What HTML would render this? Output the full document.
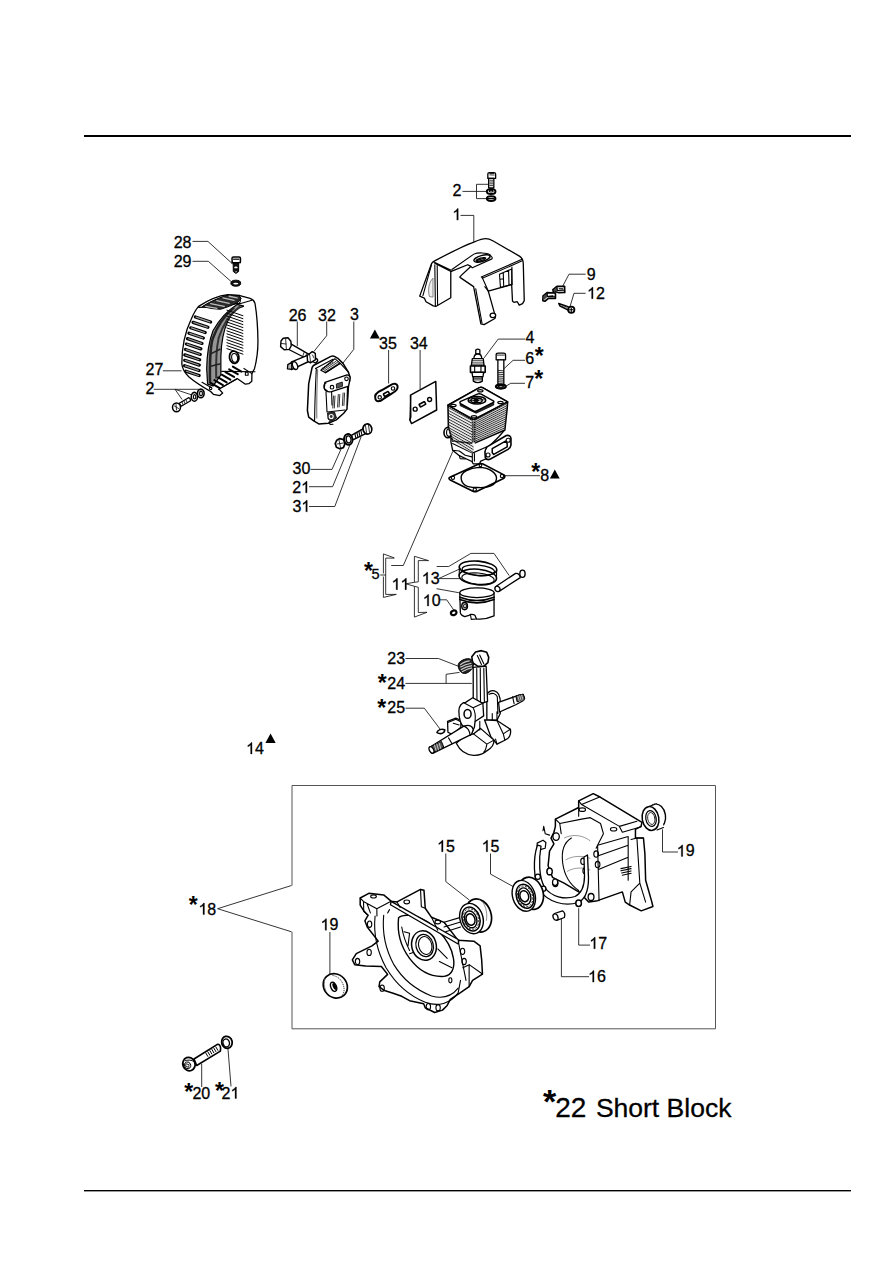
<!DOCTYPE html>
<html><head><meta charset="utf-8"><style>
html,body{margin:0;padding:0;background:#fff;}
body{width:893px;height:1263px;overflow:hidden;}
svg{display:block;font-family:"Liberation Sans",sans-serif;}
svg *{vector-effect:non-scaling-stroke;}
text{fill:#000;stroke:#000;stroke-width:0.3px;}
.ld{fill:none;stroke:#111;stroke-width:0.85;}
.o{fill:#fff;stroke:#000;stroke-width:1.3;stroke-linejoin:round;stroke-linecap:round;}
.n{fill:none;stroke:#000;stroke-width:1.1;stroke-linejoin:round;stroke-linecap:round;}
.t{fill:none;stroke:#000;stroke-width:0.8;stroke-linecap:round;}
.g{fill:none;stroke:#555;stroke-width:0.7;}
.k{fill:#222;stroke:#000;stroke-width:0.8;}
.f{fill:#000;stroke:none;}
.s{fill:none;stroke:#222;stroke-width:2.2;stroke-linecap:round;}
</style></head><body>
<svg width="893" height="1263" viewBox="0 0 893 1263">
<rect width="893" height="1263" fill="#fff"/>
<rect x="84" y="135" width="767" height="2" fill="#000"/>
<rect x="84" y="1190" width="767" height="1.4" fill="#000"/>
<path d="M292,885.5 L292,785.5 L715.5,785.5 L715.5,1028.8 L292,1028.8 L292,931.8" fill="none" stroke="#555" stroke-width="1"/>
<text x="452.40" y="195.90" font-size="16" >2</text>
<path d="M763,0 L583,0 L583,1147 Q518,1085 412,1023 Q306,961 222,930 L222,1104 Q373,1175 486,1276 Q599,1377 646,1472 L763,1472 Z" transform="translate(452.27,220.10) scale(0.007812,-0.007812)" fill="#000" stroke="#000" stroke-width="0.3"/>
<text x="173.70" y="247.70" font-size="16" >28</text>
<text x="173.70" y="267.20" font-size="16" >29</text>
<text x="586.65" y="279.70" font-size="16" >9</text>
<path d="M763,0 L583,0 L583,1147 Q518,1085 412,1023 Q306,961 222,930 L222,1104 Q373,1175 486,1276 Q599,1377 646,1472 L763,1472 Z" transform="translate(587.07,298.70) scale(0.007812,-0.007812)" fill="#000" stroke="#000" stroke-width="0.3"/><text x="595.96" y="298.70" font-size="16" >2</text>
<text x="288.70" y="320.50" font-size="16" >26</text>
<text x="318.09" y="320.50" font-size="16" >32</text>
<text x="350.09" y="320.30" font-size="16" >3</text>
<text x="379.09" y="349.20" font-size="16" >35</text>
<text x="409.89" y="349.20" font-size="16" >34</text>
<text x="525.53" y="342.60" font-size="16" >4</text>
<text x="525.19" y="364.00" font-size="16" >6</text>
<text x="525.18" y="388.00" font-size="16" >7</text>
<text x="145.50" y="375.30" font-size="16" >27</text>
<text x="145.50" y="394.30" font-size="16" >2</text>
<text x="292.59" y="473.80" font-size="16" >30</text>
<text x="292.20" y="492.80" font-size="16" >2</text><path d="M763,0 L583,0 L583,1147 Q518,1085 412,1023 Q306,961 222,930 L222,1104 Q373,1175 486,1276 Q599,1377 646,1472 L763,1472 Z" transform="translate(301.09,492.80) scale(0.007812,-0.007812)" fill="#000" stroke="#000" stroke-width="0.3"/>
<text x="292.39" y="511.80" font-size="16" >3</text><path d="M763,0 L583,0 L583,1147 Q518,1085 412,1023 Q306,961 222,930 L222,1104 Q373,1175 486,1276 Q599,1377 646,1472 L763,1472 Z" transform="translate(301.29,511.80) scale(0.007812,-0.007812)" fill="#000" stroke="#000" stroke-width="0.3"/>
<text x="540.30" y="480.80" font-size="16" >8</text>
<text x="371.52" y="579.30" font-size="14.5" >5</text>
<path d="M763,0 L583,0 L583,1147 Q518,1085 412,1023 Q306,961 222,930 L222,1104 Q373,1175 486,1276 Q599,1377 646,1472 L763,1472 Z" transform="translate(391.57,589.70) scale(0.007812,-0.007812)" fill="#000" stroke="#000" stroke-width="0.3"/><path d="M763,0 L583,0 L583,1147 Q518,1085 412,1023 Q306,961 222,930 L222,1104 Q373,1175 486,1276 Q599,1377 646,1472 L763,1472 Z" transform="translate(400.46,589.70) scale(0.007812,-0.007812)" fill="#000" stroke="#000" stroke-width="0.3"/>
<path d="M763,0 L583,0 L583,1147 Q518,1085 412,1023 Q306,961 222,930 L222,1104 Q373,1175 486,1276 Q599,1377 646,1472 L763,1472 Z" transform="translate(421.77,583.80) scale(0.007812,-0.007812)" fill="#000" stroke="#000" stroke-width="0.3"/><text x="430.66" y="583.80" font-size="16" >3</text>
<path d="M763,0 L583,0 L583,1147 Q518,1085 412,1023 Q306,961 222,930 L222,1104 Q373,1175 486,1276 Q599,1377 646,1472 L763,1472 Z" transform="translate(422.77,606.00) scale(0.007812,-0.007812)" fill="#000" stroke="#000" stroke-width="0.3"/><text x="431.66" y="606.00" font-size="16" >0</text>
<text x="387.30" y="664.40" font-size="16" >23</text>
<text x="387.30" y="689.10" font-size="16" >24</text>
<text x="387.30" y="713.30" font-size="16" >25</text>
<path d="M763,0 L583,0 L583,1147 Q518,1085 412,1023 Q306,961 222,930 L222,1104 Q373,1175 486,1276 Q599,1377 646,1472 L763,1472 Z" transform="translate(246.07,754.00) scale(0.007812,-0.007812)" fill="#000" stroke="#000" stroke-width="0.3"/><text x="254.96" y="754.00" font-size="16" >4</text>
<path d="M763,0 L583,0 L583,1147 Q518,1085 412,1023 Q306,961 222,930 L222,1104 Q373,1175 486,1276 Q599,1377 646,1472 L763,1472 Z" transform="translate(437.07,851.80) scale(0.007812,-0.007812)" fill="#000" stroke="#000" stroke-width="0.3"/><text x="445.96" y="851.80" font-size="16" >5</text>
<path d="M763,0 L583,0 L583,1147 Q518,1085 412,1023 Q306,961 222,930 L222,1104 Q373,1175 486,1276 Q599,1377 646,1472 L763,1472 Z" transform="translate(481.67,851.80) scale(0.007812,-0.007812)" fill="#000" stroke="#000" stroke-width="0.3"/><text x="490.56" y="851.80" font-size="16" >5</text>
<path d="M763,0 L583,0 L583,1147 Q518,1085 412,1023 Q306,961 222,930 L222,1104 Q373,1175 486,1276 Q599,1377 646,1472 L763,1472 Z" transform="translate(676.77,856.40) scale(0.007812,-0.007812)" fill="#000" stroke="#000" stroke-width="0.3"/><text x="685.66" y="856.40" font-size="16" >9</text>
<path d="M763,0 L583,0 L583,1147 Q518,1085 412,1023 Q306,961 222,930 L222,1104 Q373,1175 486,1276 Q599,1377 646,1472 L763,1472 Z" transform="translate(198.47,914.60) scale(0.007812,-0.007812)" fill="#000" stroke="#000" stroke-width="0.3"/><text x="207.36" y="914.60" font-size="16" >8</text>
<path d="M763,0 L583,0 L583,1147 Q518,1085 412,1023 Q306,961 222,930 L222,1104 Q373,1175 486,1276 Q599,1377 646,1472 L763,1472 Z" transform="translate(320.57,930.20) scale(0.007812,-0.007812)" fill="#000" stroke="#000" stroke-width="0.3"/><text x="329.46" y="930.20" font-size="16" >9</text>
<path d="M763,0 L583,0 L583,1147 Q518,1085 412,1023 Q306,961 222,930 L222,1104 Q373,1175 486,1276 Q599,1377 646,1472 L763,1472 Z" transform="translate(589.27,948.80) scale(0.007812,-0.007812)" fill="#000" stroke="#000" stroke-width="0.3"/><text x="598.16" y="948.80" font-size="16" >7</text>
<path d="M763,0 L583,0 L583,1147 Q518,1085 412,1023 Q306,961 222,930 L222,1104 Q373,1175 486,1276 Q599,1377 646,1472 L763,1472 Z" transform="translate(588.07,982.10) scale(0.007812,-0.007812)" fill="#000" stroke="#000" stroke-width="0.3"/><text x="596.96" y="982.10" font-size="16" >6</text>
<text x="192.40" y="1098.50" font-size="16" >20</text>
<text x="221.60" y="1098.50" font-size="16" >2</text><path d="M763,0 L583,0 L583,1147 Q518,1085 412,1023 Q306,961 222,930 L222,1104 Q373,1175 486,1276 Q599,1377 646,1472 L763,1472 Z" transform="translate(230.49,1098.50) scale(0.007812,-0.007812)" fill="#000" stroke="#000" stroke-width="0.3"/>
<text x="534.73" y="364.12" font-size="23" font-weight="bold" style="stroke:none">*</text>
<text x="534.23" y="387.22" font-size="23" font-weight="bold" style="stroke:none">*</text>
<text x="531.13" y="480.32" font-size="23" font-weight="bold" style="stroke:none">*</text>
<text x="363.93" y="579.02" font-size="23" font-weight="bold" style="stroke:none">*</text>
<text x="377.73" y="690.92" font-size="23" font-weight="bold" style="stroke:none">*</text>
<text x="377.13" y="716.12" font-size="23" font-weight="bold" style="stroke:none">*</text>
<text x="188.73" y="912.92" font-size="23" font-weight="bold" style="stroke:none">*</text>
<text x="184.13" y="1099.82" font-size="23" font-weight="bold" style="stroke:none">*</text>
<text x="215.03" y="1099.12" font-size="23" font-weight="bold" style="stroke:none">*</text>
<path class="f" d="M369.9,338.4 L374.85,329.6 L379.8,338.4 Z"/>
<path class="f" d="M549.9,478.5 L554.8,469.6 L559.7,478.5 Z"/>
<path class="f" d="M265.4,742.9 L270.54999999999995,733.6 L275.7,742.9 Z"/>
<text x="543.00" y="1113.49" font-size="34" font-weight="bold" style="stroke:none">*</text>
<text x="555.19" y="1116.90" font-size="28" >22</text>
<text x="595.90" y="1117.30" font-size="26.5" >Short Block</text>
<path class="ld" d="M462.5,191.4 L487,191.4"/>
<path class="ld" d="M488,184.3 L476.5,184.3 L476.5,198.6 L487,198.6"/>
<path class="ld" d="M460.5,215.4 L473.8,215.4 L473.8,246.7"/>
<path class="ld" d="M192.5,241.4 L207.9,241.4 L232.5,263.8"/>
<path class="ld" d="M192.5,261.3 L208.3,261.3 L231.4,281.8"/>
<path class="ld" d="M585.6,274.2 L569,274.2 L562.8,286"/>
<path class="ld" d="M585.6,293.3 L574,293.3 L570,306.6"/>
<path class="ld" d="M297.3,321.5 L297.3,346.2"/>
<path class="ld" d="M326.7,321.5 L326.7,335.7 L313.7,351.7"/>
<path class="ld" d="M353.8,321.5 L353.8,349.3 L342.7,363.4"/>
<path class="ld" d="M388.6,350 L388.6,383.5"/>
<path class="ld" d="M420.1,350 L420.1,389"/>
<path class="ld" d="M525,339.1 L498.2,339.1 L484.1,357.9"/>
<path class="ld" d="M525,360.3 L513.1,360.3 L503.7,368.9"/>
<path class="ld" d="M525,383.3 L510.7,383.3 L506,386.1"/>
<path class="ld" d="M162.8,370.8 L181.5,370.8"/>
<path class="ld" d="M153.8,389.3 L199,389.3"/>
<path class="ld" d="M175,389.3 L182.1,399.5"/>
<path class="ld" d="M175,389.3 L192,395"/>
<path class="ld" d="M310.5,469.4 L332,469.4 L341,449.2"/>
<path class="ld" d="M309,486.7 L332.6,486.7 L350,444.7"/>
<path class="ld" d="M309,506.5 L334.8,506.5 L361.1,436.8"/>
<path class="ld" d="M504.8,475.7 L540,475.7"/>
<path class="ld" d="M452.8,451.4 L403.3,565.5 L391.2,565.5"/>
<path class="ld" d="M394.3,557.9 L383.4,553.9 L383.4,573.5"/>
<path class="ld" d="M383.4,576.5 L383.4,597.4 L396.3,594.4"/>
<path class="ld" d="M394.3,558.1 L385.7,558.1 L385.7,594.4 L396.3,594.4"/>
<path class="ld" d="M380.2,575.0 L385.7,575.0"/>
<path class="ld" d="M428.5,560.6 L414.4,556.3 L414.4,582.3 L405.9,583.8 L414.4,586.3 L414.4,617.1 L427,612.3"/>
<path class="ld" d="M428.5,560.6 L418.3,560.6 L418.3,581.8 L414.4,582.3"/>
<path class="ld" d="M414.4,586.3 L418.3,587.3 L418.3,612.5 L427,612.3"/>
<path class="ld" d="M438.6,578.6 L460.8,568.5"/>
<path class="ld" d="M438.6,578.6 L460.8,578.6"/>
<path class="ld" d="M436.6,566.5 L448.7,566.5 L470.9,553.4 L494,553.4 L509.2,575.6"/>
<path class="ld" d="M436.6,588.7 L458.8,592.7"/>
<path class="ld" d="M439.6,599.8 L446.7,599.8 L453.7,609.9"/>
<path class="ld" d="M405.5,658.5 L438.5,658.5 L459.5,666.7"/>
<path class="ld" d="M405.5,683.4 L471.8,683.4"/>
<path class="ld" d="M446.1,683.4 L446.1,674.3 L459.5,672.4"/>
<path class="ld" d="M405.5,708.2 L424.3,708.2 L440.4,729.5"/>
<path class="ld" d="M445.8,853.5 L445.8,881.6 L469.3,900"/>
<path class="ld" d="M490.5,853.5 L490.5,874.1 L514,887"/>
<path class="ld" d="M678,852 L662.5,852 L662.5,829.3"/>
<path class="ld" d="M217.6,908.7 L291.5,885.5"/>
<path class="ld" d="M217.6,908.7 L291.5,931.8"/>
<path class="ld" d="M329.9,932 L329.9,974"/>
<path class="ld" d="M590,945.1 L578.7,945.1 L578.7,908.2"/>
<path class="ld" d="M589,976.7 L561.4,976.7 L561.4,918"/>
<path class="ld" d="M201.7,1063.8 L201.7,1087"/>
<path class="ld" d="M228,1049.1 L231,1086.4"/>
<g transform="translate(445,165) scale(0.08961)">
<path class="o" d="M478,100 Q478,85 495,85 L545,85 Q565,85 565,100 L565,150 L478,150 Z"/>
<path class="t" d="M500,95 L545,95 M500,110 L548,112"/>
<path class="o" d="M487,150 L545,150 L545,255 L487,255 Z"/>
<path class="t" d="M500,170 L532,170 M500,190 L532,190 M500,210 L532,210 M500,230 L532,230"/>
<ellipse class="o" cx="515" cy="297" rx="48" ry="28" style="stroke-width:2"/>
<ellipse class="n" cx="515" cy="292" rx="22" ry="10"/>
<ellipse class="o" cx="515" cy="375" rx="48" ry="27" style="stroke-width:2"/>
<path class="n" d="M480,375 L550,375"/>
</g>
<g transform="translate(412,225) scale(0.13998)">
<path class="o" d="M150,263 C240,215 360,150 442,122 C485,105 505,98 525,98 C548,98 562,104 580,114 L770,224 C790,238 795,258 795,278 L802,540 L790,562 L766,572 L752,548 L728,552 L718,545 L712,425 L545,472 L596,655 L592,668 L515,712 L492,706 L440,440 L348,378 L341,372 L352,360 L420,296 L398,284 L285,330 L277,335 L277,520 L170,582 L152,578 L100,548 L88,522 L55,508 L140,275 Z"/>
<path class="n" d="M156,265 L280,323 M162,274 L278,332"/>
<path class="n" d="M163,284 L167,578 M180,290 L183,572"/>
<path class="n" d="M140,282 L78,505"/>
<path class="g" d="M150,380 C118,410 112,470 125,512 L150,515 Z" style="fill:#eee"/>
<path class="n" d="M285,318 L442,208 C465,196 535,196 556,212 L574,234 L571,242 L431,306 L420,296"/>
<ellipse class="n" cx="500" cy="239" rx="60" ry="21" transform="rotate(-17 500 239)" style="stroke-width:1.4"/>
<ellipse class="n" cx="492" cy="246" rx="36" ry="9" transform="rotate(-17 492 246)" style="stroke-width:1.3"/>
<path d="M462,254 L520,236" stroke="#000" stroke-width="1.2"/>
<path class="n" d="M495,372 L782,247 M502,381 L784,258"/>
<path class="n" d="M500,372 L545,472"/>
<path class="n" d="M455,455 L500,700"/>
<path class="n" d="M625,352 L712,314 L716,425 L632,446 Z M652,342 L655,436 M690,325 L693,428 M632,388 L652,384"/>
<path class="n" d="M520,440 L545,472"/>
<ellipse class="o" cx="578" cy="645" rx="20" ry="16"/>
<path class="n" d="M712,425 L714,300"/>
</g>
<g transform="translate(535,260) scale(0.08961)">
<path class="o" d="M200,330 L245,295 L330,293 L332,362 L268,365 L220,352 L205,360 Z" style="stroke-width:1.7"/>
<path d="M205,335 L245,300 L250,345 L215,355 Z" fill="#444"/>
<path class="n" d="M245,300 L250,340 L325,338 M270,320 L310,322"/>
<path class="o" d="M90,400 L135,365 L228,368 L228,428 L150,428 L110,460 L88,455 Z" style="stroke-width:1.7"/>
<path d="M95,405 L135,372 L140,410 L100,445 Z" fill="#444"/>
<path class="n" d="M135,370 L140,410 L225,410 M150,405 L200,400"/>
<path class="o" d="M265,485 L368,520 L388,568 L280,515 Z" style="stroke-width:1.5"/>
<path class="t" d="M300,505 L310,520 M320,510 L330,528 M340,518 L350,536"/>
<circle class="o" cx="405" cy="555" r="35" style="stroke-width:1.8"/>
<path class="n" d="M385,555 L425,555 M405,535 L405,575"/>
</g>
<g transform="translate(0,0) scale(1.00000)">
<path d="M232,258.2 Q232,256.9 233.5,256.9 L239,256.9 Q240.5,256.9 240.5,258.4 L240.3,262.6 L232.2,262.8 Z" fill="#fff" stroke="#000" stroke-width="1.5"/>
<path d="M233,258.4 L239.6,258.4 L239.4,260 L233.2,260 Z" fill="#333"/>
<path d="M233.2,262.8 L238.7,262.8 L238.6,271.5 L235.9,273.4 L233.3,271.5 Z" fill="#111" stroke="#000" stroke-width="1"/>
<ellipse cx="235.9" cy="267.4" rx="1.7" ry="0.9" fill="#fff"/>
<path d="M234.8,271.2 L235.9,272.2 L237,271.2" stroke="#fff" stroke-width="0.6" fill="none"/>
</g>
<g transform="translate(0,0) scale(1.00000)">
<ellipse cx="235.8" cy="283.2" rx="4.9" ry="3.0" fill="#111" stroke="#000" stroke-width="1"/>
<ellipse cx="235.8" cy="283.6" rx="2.6" ry="0.9" fill="#fff"/>
</g>
<g transform="translate(170,280) scale(0.12318)"><path class="o" d="M232,214 C290,175 380,128 470,118 L560,124 L650,150 C672,158 684,170 690,190 C702,260 713,400 714,500 C714,590 702,660 686,720 L665,758 L664,822 L640,842 L612,846 L545,800 L398,885 L428,918 L404,938 L352,928 L330,905 C262,866 200,826 152,785 C118,752 100,720 96,682 C96,560 122,420 172,318 C192,272 210,238 232,214 Z"/><path class="n" d="M232,222 C320,222 460,205 560,190"/><path class="n" d="M560,124 C575,150 572,180 560,195 L665,165"/><path d="M545,198 C470,245 400,320 350,410 C315,500 300,600 298,720 L305,845 L350,860 L413,770 L413,620 C415,520 430,420 470,330 C500,270 550,225 600,212 Z" fill="#959595" stroke="#000" stroke-width="1.2"/><path d="M520,222 C440,290 380,380 345,480 C325,560 322,680 325,840" fill="none" stroke="#222" stroke-width="2.5"/><path d="M570,214 C490,270 430,360 395,470 C375,560 372,680 375,800" fill="none" stroke="#333" stroke-width="2"/><path d="M330,600 L410,560 M330,700 L410,680" fill="none" stroke="#222" stroke-width="1.5"/><path d="M206,300 L330,341" stroke="#000" stroke-width="3.2" stroke-linecap="round"/><path d="M212,301 L324,340" stroke="#999" stroke-width="1.2" stroke-linecap="round"/><path d="M187,344 L308,384" stroke="#000" stroke-width="3.2" stroke-linecap="round"/><path d="M193,345 L302,383" stroke="#999" stroke-width="1.2" stroke-linecap="round"/><path d="M168,388 L286,427" stroke="#000" stroke-width="3.2" stroke-linecap="round"/><path d="M174,389 L280,426" stroke="#999" stroke-width="1.2" stroke-linecap="round"/><path d="M154,432 L271,471" stroke="#000" stroke-width="3.2" stroke-linecap="round"/><path d="M160,433 L265,470" stroke="#999" stroke-width="1.2" stroke-linecap="round"/><path d="M142,476 L260,515" stroke="#000" stroke-width="3.2" stroke-linecap="round"/><path d="M148,477 L254,514" stroke="#999" stroke-width="1.2" stroke-linecap="round"/><path d="M133,520 L251,559" stroke="#000" stroke-width="3.2" stroke-linecap="round"/><path d="M139,521 L245,558" stroke="#999" stroke-width="1.2" stroke-linecap="round"/><path d="M126,564 L246,604" stroke="#000" stroke-width="3.2" stroke-linecap="round"/><path d="M132,565 L240,603" stroke="#999" stroke-width="1.2" stroke-linecap="round"/><path d="M120,608 L241,648" stroke="#000" stroke-width="3.2" stroke-linecap="round"/><path d="M126,609 L235,647" stroke="#999" stroke-width="1.2" stroke-linecap="round"/><path d="M119,652 L238,691" stroke="#000" stroke-width="3.2" stroke-linecap="round"/><path d="M125,653 L232,690" stroke="#999" stroke-width="1.2" stroke-linecap="round"/><path d="M118,696 L236,735" stroke="#000" stroke-width="3.2" stroke-linecap="round"/><path d="M124,697 L230,734" stroke="#999" stroke-width="1.2" stroke-linecap="round"/><path d="M128,740 L237,776" stroke="#000" stroke-width="3.2" stroke-linecap="round"/><path d="M134,741 L231,775" stroke="#999" stroke-width="1.2" stroke-linecap="round"/><path d="M262,216 C300,190 380,148 470,122 L560,126 L578,150 L545,186 L480,214 L410,238 L340,232 Z" fill="#2a2a2a" stroke="#000" stroke-width="1"/><path d="M290,214 L380,230" stroke="#bbb" stroke-width="1.3" stroke-linecap="round"/><path d="M330,192 L440,214" stroke="#bbb" stroke-width="1.3" stroke-linecap="round"/><path d="M380,168 L480,190" stroke="#bbb" stroke-width="1.3" stroke-linecap="round"/><path d="M430,146 L520,166" stroke="#bbb" stroke-width="1.3" stroke-linecap="round"/><path d="M480,132 L545,146" stroke="#bbb" stroke-width="1.3" stroke-linecap="round"/><path class="t" d="M462,245 L592,290" style="stroke-width:1"/><path class="t" d="M462,269 L592,314" style="stroke-width:1"/><path class="t" d="M462,293 L592,338" style="stroke-width:1"/><path class="t" d="M462,317 L592,362" style="stroke-width:1"/><path class="t" d="M462,341 L592,386" style="stroke-width:1"/><path class="t" d="M462,365 L592,410" style="stroke-width:1"/><path class="t" d="M462,389 L592,434" style="stroke-width:1"/><path class="t" d="M462,413 L592,458" style="stroke-width:1"/><path class="t" d="M462,437 L592,482" style="stroke-width:1"/><path class="t" d="M462,461 L592,506" style="stroke-width:1"/><path class="t" d="M462,485 L592,530" style="stroke-width:1"/><path class="t" d="M462,509 L592,554" style="stroke-width:1"/><path class="t" d="M462,533 L592,578" style="stroke-width:1"/><path class="t" d="M462,557 L592,602" style="stroke-width:1"/><ellipse class="o" cx="521" cy="627" rx="38" ry="50" transform="rotate(-10 521 627)" style="stroke-width:1.8"/><ellipse class="n" cx="525" cy="632" rx="24" ry="36" transform="rotate(-10 525 632)"/><path d="M330,835 L400,875" stroke="#000" stroke-width="2.0" stroke-linecap="round"/><path d="M360,813 L430,853" stroke="#000" stroke-width="2.0" stroke-linecap="round"/><path d="M390,791 L460,831" stroke="#000" stroke-width="2.0" stroke-linecap="round"/><path d="M420,769 L490,809" stroke="#000" stroke-width="2.0" stroke-linecap="round"/><path d="M450,747 L520,787" stroke="#000" stroke-width="2.0" stroke-linecap="round"/><path d="M480,725 L550,765" stroke="#000" stroke-width="2.0" stroke-linecap="round"/><path d="M510,703 L580,743" stroke="#000" stroke-width="2.0" stroke-linecap="round"/><path class="n" d="M420,742 L690,745 M600,718 L665,760"/><path class="n" d="M260,830 L330,870 M395,888 L540,805"/><rect class="n" x="612" y="748" width="22" height="25"/><circle class="n" cx="330" cy="880" r="10"/></g>
<g transform="translate(0,0) scale(1.00000)">
<path class="o" d="M179.3,403.3 L188.5,397.7 Q190.6,398.2 190.6,400.8 L181.2,406.3 Z"/>
<path class="t" d="M182,402 L183,404.5 M184,401 L185,403.5 M186,399.8 L187,402.2"/>
<ellipse class="o" cx="176.5" cy="407.3" rx="4" ry="4.4" style="stroke-width:1.5"/>
<path class="t" d="M174.5,406 L178.5,408.5 M176,404.5 L176.5,410"/>
<ellipse class="o" cx="194.4" cy="396.8" rx="3.1" ry="4.4" style="stroke-width:1.6"/>
<ellipse class="n" cx="194.6" cy="396.8" rx="1.2" ry="2.2"/>
<ellipse class="o" cx="200.8" cy="393.4" rx="3.3" ry="4.3" style="stroke-width:1.6"/>
<ellipse class="n" cx="201" cy="393.4" rx="1.4" ry="2.3"/>
</g>
<g transform="translate(0,0) scale(1.00000)">
<path class="o" d="M290.4,343.6 L317.2,359.2 Q318.8,361.2 315.4,363 L287.8,349 Z" style="stroke-width:1.4"/>
<path class="t" d="M304,352.5 L303,355.5 M306.5,354 L305.5,357 M309,355.5 L308,358.5 M311.5,357 L310.5,360"/>
<path class="o" d="M281,341 L283.2,338.2 L288,337.8 L290.9,341.3 L291.2,346 L289.2,349.4 L284.2,349.7 L280.6,346.6 Z" style="stroke-width:1.4"/>
<path class="n" d="M285.6,338.3 L286.4,349.6 M281.5,343.5 L286,344" style="stroke-width:0.8"/>
<path class="o" d="M291.5,361.8 L310,354.4 L312.8,356.8 L309.8,361 L291.5,369.6 Z" style="stroke-width:1.4"/>
<path class="o" d="M291.8,362.2 L287.8,364.6 L287.4,368.8 L291.8,369.4 Z" style="stroke-width:1.3;fill:#bbb"/>
<ellipse class="o" cx="295" cy="365.5" rx="2.4" ry="4.1" transform="rotate(-20 295 365.5)" style="stroke-width:1.3"/>
<path class="o" d="M307.2,355.5 L312.3,351.6 L315.3,353.3 L315.6,359.6 L310.4,362.8 L307.5,361 Z" style="stroke-width:1.4"/>
<path class="n" d="M309.5,354 L310.5,361.6" style="stroke-width:0.8"/>
<path class="t" d="M312.5,355 L314,358"/>
</g>
<g transform="translate(0,0) scale(1.00000)">
<path class="o" d="M313.4,365.5 L330.9,356.4 Q333,355.6 334.9,356.7 L338.3,358.7 L343,363.4 L348.4,372.2 L350,376.9 L349.7,380.9 L347.7,386.3 L347,409.1 L343.7,413.2 L336.3,419.9 L328.2,423.2 L318.8,423.9 L314.1,421.2 L308.7,417.2 L307.4,410.5 L308.7,383.6 L312.1,367.5 Z" style="stroke-width:1.5"/>
<path class="n" d="M315.5,368.5 L333,359.2 M316.3,368.8 C315.5,385 314.8,400 314.6,420.5"/>
<path class="n" d="M317.6,369.5 C317,385 316.5,400 316.8,418" style="stroke:#777"/>
<path class="n" d="M320.8,370.2 L334.9,358.7 L340.3,363.4 L325.5,372.8 Z"/>
<path class="t" d="M323,370 L336,361.3 M324,371.2 L337.6,362.2 M325.3,372 L339,363.2"/>
<path class="t" d="M322,369 L322.6,367.8 M324,367.8 L324.6,366.6 M326,366.6 L326.6,365.4 M328,365.4 L328.6,364.2 M330,364.2 L330.6,363 M332,363 L332.6,361.8"/>
<path class="n" d="M325.5,372.8 L340.3,363.4 L348.4,372.2"/>
<path class="o" d="M324.9,382.3 L347,374.9 Q350.5,375.5 350,378.5 L348.6,386.2 L331.6,391.7 Q325.5,392.5 324.2,388.3 Z"/>
<path class="n" d="M326,383 C323,384 323,389 327,390.5"/>
<path class="k" d="M336.3,384 L342.3,382 L342.5,386.3 L336.6,388.3 Z" style="fill:#555"/>
<circle class="n" cx="332" cy="387.2" r="1.8"/>
<circle class="n" cx="346.5" cy="378.8" r="1.8"/>
<path class="n" d="M331.6,391.7 L332,405 M348.6,386.2 L347.5,405"/>
<path class="t" d="M333.5,396 L332.8,408 M335,396 L334.3,408 M338.3,394.5 L337.6,407 M339.8,394.5 L339.1,407 M343.1,393 L342.4,405.5 M344.6,393 L343.9,405.5"/>
<path class="n" d="M326,392 L327,412 L345,410"/>
<path class="k" d="M327.5,413 L334.5,412 L336.5,418 L331,421.5 L328,419 Z" style="fill:#333"/>
<circle class="n" cx="331.2" cy="416.5" r="2" style="stroke:#fff"/>
<path class="n" d="M329.3,421.5 L330,424.5 L333,424.3"/>
</g>
<g transform="translate(360,325) scale(0.12318)">
<path class="o" d="M125,600 C115,570 140,545 175,530 L245,490 C275,470 300,475 305,495 C310,520 290,540 260,555 L190,600 C160,625 130,625 125,600 Z" style="stroke-width:2"/>
<circle class="n" cx="160" cy="587" r="14"/>
<circle class="n" cx="268" cy="515" r="14"/>
<rect class="n" x="192" y="548" width="45" height="24" rx="5" transform="rotate(-30 214 560)" style="stroke-width:1.6"/>
<path class="o" d="M410,570 L615,458 L622,690 L418,800 L405,770 L412,748 Z" style="stroke-width:1.5"/>
<path class="n" d="M412,575 L405,770"/>
<circle class="n" cx="448" cy="683" r="16" style="stroke-width:1.4"/>
<circle class="n" cx="565" cy="605" r="16" style="stroke-width:1.4"/>
<rect class="n" x="482" y="632" width="50" height="24" rx="4" transform="rotate(-28 507 644)" style="stroke-width:1.6"/>
</g>
<g transform="translate(430,325) scale(0.15676)">
<path class="o" d="M292,185 L292,160 Q305,148 318,160 L318,185 Z"/>
<path class="o" d="M280,215 Q280,185 305,185 Q330,185 330,215 Z"/>
<path class="o" d="M270,215 L340,215 L345,262 L263,262 Z"/>
<path class="t" d="M270,228 L340,228 M268,242 L342,242 M266,254 L344,254"/>
<path class="o" d="M258,262 L352,262 L352,302 L258,302 Z" style="stroke-width:1.6"/>
<path class="n" d="M285,262 L285,302 M325,262 L325,302"/>
<path class="o" d="M268,302 L342,302 L338,330 L272,330 Z"/>
<path class="o" d="M276,330 L334,330 L334,358 Q305,378 276,358 Z"/>
<path class="t" d="M276,340 L334,340 M276,350 L334,350"/>
<path class="o" d="M422,190 Q422,180 435,180 L470,180 Q482,180 482,190 L482,222 L422,222 Z"/>
<path class="t" d="M430,192 L474,192"/>
<path class="o" d="M433,222 L471,222 L471,385 L433,385 Z"/>
<path class="t" d="M436,290 L468,292 M436,302 L468,304 M436,314 L468,316 M436,326 L468,328 M436,338 L468,340 M436,350 L468,352 M436,362 L468,364 M436,374 L468,376"/>
<ellipse class="o" cx="452" cy="393" rx="32" ry="13" style="stroke-width:2;fill:#666"/>
<ellipse class="n" cx="452" cy="391" rx="16" ry="6" style="fill:#fff"/>
</g>
<g transform="translate(440,383) scale(0.08398)"><path class="o" d="M130,640 L130,700 L150,800 L230,865 L380,935 L395,962 L470,962 L485,930 L545,905 L560,780 L700,640 L770,560 Z"/><path class="n" d="M150,720 L385,835 L560,760 M385,835 L385,935 M150,800 L230,810 L300,860 L380,880"/><path class="n" d="M410,840 L410,930 M230,865 L240,900 L300,905"/><path class="o" d="M560,760 L790,625 Q840,618 845,660 L845,740 Q840,772 810,790 L600,905 Q560,925 540,890 L535,822 Q540,790 560,760 Z" style="stroke-width:1.6"/><path class="n" d="M622,782 L780,692 L800,722 L800,760 L640,850 L622,830 Z" style="stroke-width:1.5"/><circle class="n" cx="812" cy="682" r="24"/><circle class="n" cx="572" cy="858" r="24"/><ellipse class="o" cx="95" cy="590" rx="48" ry="62" style="stroke-width:1.6"/><ellipse class="n" cx="108" cy="590" rx="30" ry="46"/><path class="o" d="M95,265 L470,55 Q490,46 512,58 L805,225 L800,300 L772,560 L400,720 L150,690 L100,520 Z" style="stroke-width:1.6"/><path d="M95,290 L400,455" stroke="#000" stroke-width="0.85" fill="none"/><path d="M101,303 L400,468" stroke="#aaa" stroke-width="0.5" fill="none"/><path d="M95,324 L400,489" stroke="#000" stroke-width="0.85" fill="none"/><path d="M101,337 L400,502" stroke="#aaa" stroke-width="0.5" fill="none"/><path d="M95,358 L400,523" stroke="#000" stroke-width="0.85" fill="none"/><path d="M101,371 L400,536" stroke="#aaa" stroke-width="0.5" fill="none"/><path d="M95,392 L400,557" stroke="#000" stroke-width="0.85" fill="none"/><path d="M101,405 L400,570" stroke="#aaa" stroke-width="0.5" fill="none"/><path d="M95,426 L400,591" stroke="#000" stroke-width="0.85" fill="none"/><path d="M101,439 L400,604" stroke="#aaa" stroke-width="0.5" fill="none"/><path d="M95,460 L400,625" stroke="#000" stroke-width="0.85" fill="none"/><path d="M101,473 L400,638" stroke="#aaa" stroke-width="0.5" fill="none"/><path d="M95,494 L400,659" stroke="#000" stroke-width="0.85" fill="none"/><path d="M101,507 L400,672" stroke="#aaa" stroke-width="0.5" fill="none"/><path d="M95,528 L400,693" stroke="#000" stroke-width="0.85" fill="none"/><path d="M101,541 L400,706" stroke="#aaa" stroke-width="0.5" fill="none"/><path d="M105,562 L400,727" stroke="#000" stroke-width="0.85" fill="none"/><path d="M111,575 L400,740" stroke="#aaa" stroke-width="0.5" fill="none"/><path d="M115,596 L400,761" stroke="#000" stroke-width="0.85" fill="none"/><path d="M121,609 L400,774" stroke="#aaa" stroke-width="0.5" fill="none"/><path d="M125,630 L400,795" stroke="#000" stroke-width="0.85" fill="none"/><path d="M131,643 L400,808" stroke="#aaa" stroke-width="0.5" fill="none"/><path d="M135,664 L400,829" stroke="#000" stroke-width="0.85" fill="none"/><path d="M141,677 L400,842" stroke="#aaa" stroke-width="0.5" fill="none"/><path d="M400,452.0 L802.0,242.0" stroke="#000" stroke-width="0.85" fill="none"/><path d="M400,463.0 L800.0,253.0" stroke="#aaa" stroke-width="0.5" fill="none"/><path d="M400,474.5 L799.5,268.5" stroke="#000" stroke-width="0.85" fill="none"/><path d="M400,485.5 L797.5,279.5" stroke="#aaa" stroke-width="0.5" fill="none"/><path d="M400,497.0 L797.0,295.0" stroke="#000" stroke-width="0.85" fill="none"/><path d="M400,508.0 L795.0,306.0" stroke="#aaa" stroke-width="0.5" fill="none"/><path d="M400,519.5 L794.5,321.5" stroke="#000" stroke-width="0.85" fill="none"/><path d="M400,530.5 L792.5,332.5" stroke="#aaa" stroke-width="0.5" fill="none"/><path d="M400,542.0 L792.0,348.0" stroke="#000" stroke-width="0.85" fill="none"/><path d="M400,553.0 L790.0,359.0" stroke="#aaa" stroke-width="0.5" fill="none"/><path d="M400,564.5 L789.5,374.5" stroke="#000" stroke-width="0.85" fill="none"/><path d="M400,575.5 L787.5,385.5" stroke="#aaa" stroke-width="0.5" fill="none"/><path d="M400,587.0 L787.0,401.0" stroke="#000" stroke-width="0.85" fill="none"/><path d="M400,598.0 L785.0,412.0" stroke="#aaa" stroke-width="0.5" fill="none"/><path d="M400,609.5 L784.5,427.5" stroke="#000" stroke-width="0.85" fill="none"/><path d="M400,620.5 L782.5,438.5" stroke="#aaa" stroke-width="0.5" fill="none"/><path d="M400,632.0 L782.0,454.0" stroke="#000" stroke-width="0.85" fill="none"/><path d="M400,643.0 L780.0,465.0" stroke="#aaa" stroke-width="0.5" fill="none"/><path d="M400,654.5 L779.5,480.5" stroke="#000" stroke-width="0.85" fill="none"/><path d="M400,665.5 L777.5,491.5" stroke="#aaa" stroke-width="0.5" fill="none"/><path d="M400,677.0 L777.0,507.0" stroke="#000" stroke-width="0.85" fill="none"/><path d="M400,688.0 L775.0,518.0" stroke="#aaa" stroke-width="0.5" fill="none"/><path d="M400,699.5 L774.5,533.5" stroke="#000" stroke-width="0.85" fill="none"/><path d="M400,710.5 L772.5,544.5" stroke="#aaa" stroke-width="0.5" fill="none"/><path class="n" d="M400,430 L400,720" style="stroke:#fff;stroke-width:3"/><path class="t" d="M385,440 L385,715 M415,440 L415,715" style="stroke:#444"/><ellipse class="n" cx="400" cy="470" rx="14" ry="7" style="stroke-width:0.8"/><ellipse class="n" cx="400" cy="498" rx="14" ry="7" style="stroke-width:0.8"/><ellipse class="n" cx="400" cy="526" rx="14" ry="7" style="stroke-width:0.8"/><ellipse class="n" cx="400" cy="554" rx="14" ry="7" style="stroke-width:0.8"/><ellipse class="n" cx="400" cy="582" rx="14" ry="7" style="stroke-width:0.8"/><ellipse class="n" cx="400" cy="610" rx="14" ry="7" style="stroke-width:0.8"/><ellipse class="n" cx="400" cy="638" rx="14" ry="7" style="stroke-width:0.8"/><ellipse class="n" cx="400" cy="666" rx="14" ry="7" style="stroke-width:0.8"/><ellipse class="n" cx="400" cy="694" rx="14" ry="7" style="stroke-width:0.8"/><path class="o" d="M95,265 L470,55 Q490,46 512,58 L805,225 L420,430 Q400,440 380,430 Z" style="stroke-width:1.6"/><path class="n" d="M105,275 L395,425 M410,425 L795,228" style="stroke-width:0.8"/><ellipse class="n" cx="160" cy="268" rx="32" ry="14" style="stroke-width:1.2"/><ellipse class="n" cx="480" cy="92" rx="32" ry="14" style="stroke-width:1.2"/><ellipse class="n" cx="720" cy="232" rx="32" ry="14" style="stroke-width:1.2"/><ellipse class="n" cx="405" cy="402" rx="32" ry="14" style="stroke-width:1.2"/><path class="k" d="M240,225 L430,330 L640,222 L640,262 L430,360 L240,270 Z" style="fill:#2a2a2a"/><path class="o" d="M240,222 L452,130 Q470,124 490,132 L640,215 Q645,225 635,232 L430,335 Q418,340 405,334 L245,245 Q232,235 240,222 Z" style="stroke-width:1.4"/><ellipse class="n" cx="440" cy="205" rx="105" ry="45" style="stroke-width:1.6"/><ellipse class="n" cx="435" cy="207" rx="68" ry="28" style="stroke-width:1.4"/><ellipse class="n" cx="430" cy="207" rx="26" ry="11" style="stroke-width:1.4"/><path class="t" d="M340,210 L530,200 M440,175 L440,235"/></g>
<g transform="translate(420,380) scale(0.16798)">
<path class="o" d="M175,580 L350,500 Q362,494 375,500 L500,565 Q510,575 500,585 L340,662 Q328,668 315,662 L180,595 Q168,588 175,580 Z" style="stroke-width:1.6"/>
<path class="n" d="M245,585 C240,548 300,522 350,520 C420,520 460,560 455,590 C450,630 400,645 340,640 C280,642 248,620 245,585 Z" style="stroke-width:1.4"/>
<circle class="n" cx="196" cy="582" r="10"/><circle class="n" cx="360" cy="508" r="8"/>
<circle class="n" cx="488" cy="572" r="10"/><circle class="n" cx="326" cy="652" r="10"/>
</g>
<g transform="translate(0,0) scale(1.00000)">
<path class="o" d="M351.8,435.2 L363.4,428.6 Q366.2,431 365.2,433.8 L353.4,439.6 Q350.6,438.5 351.8,435.2 Z" style="stroke-width:1.5"/>
<path class="t" d="M354.8,433.4 L355.8,437.8 M356.8,432.3 L357.8,436.7 M358.8,431.2 L359.8,435.6 M360.8,430.1 L361.8,434.5" style="stroke-width:1.1"/>
<ellipse class="o" cx="367.4" cy="429" rx="4.4" ry="5.1" transform="rotate(-10 367.4 429)" style="stroke-width:1.7"/>
<path class="n" d="M365.5,425.5 L366.5,432.5 M368.5,425 L369.5,432.5" style="stroke-width:0.8"/>
<ellipse class="o" cx="348.3" cy="439.4" rx="4.2" ry="5.4" transform="rotate(-10 348.3 439.4)" style="stroke-width:1.9"/>
<ellipse class="n" cx="348.6" cy="439.4" rx="2.4" ry="3.5" transform="rotate(-10 348.6 439.4)" style="stroke-width:1.3"/>
<path class="o" d="M336.8,440.2 L339.8,438.6 L343.6,439.6 L345,443.6 L343.4,447.6 L339.8,448.8 L336.4,447.2 L335.2,443.5 Z" style="stroke-width:1.7"/>
<path class="n" d="M339,440 L340.5,447.5 M337,444 L343.5,443" style="stroke-width:0.8"/>
</g>
<g transform="translate(0,0) scale(1.00000)">
<ellipse cx="478" cy="568.3" rx="18.8" ry="7.2" transform="rotate(5 478 568.3)" fill="none" stroke="#000" stroke-width="1.6"/>
<ellipse cx="478.3" cy="570.3" rx="16.2" ry="5.2" transform="rotate(5 478.3 570.3)" fill="none" stroke="#000" stroke-width="1.2"/>
<ellipse cx="477.8" cy="577" rx="18.8" ry="7.8" transform="rotate(5 477.8 577)" fill="none" stroke="#000" stroke-width="1.6"/>
<ellipse cx="478" cy="578.6" rx="16.2" ry="5.6" transform="rotate(5 478 578.6)" fill="none" stroke="#000" stroke-width="1.1"/>
<path d="M459.4,567 L459.2,575.5 M496.6,570 L496.5,578.6" stroke="#000" stroke-width="1.1" fill="none"/>
</g>
<g transform="translate(360,500) scale(0.20157)">
<path class="o" d="M672,430 L772,364 Q792,362 795,385 L692,452 Q672,455 672,430 Z"/>
<ellipse class="o" cx="682" cy="441" rx="12" ry="14" transform="rotate(-30 682 441)"/>
<ellipse class="o" cx="806" cy="366" rx="13" ry="18" style="stroke-width:1.4"/>
<path class="o" d="M495,460 L498,560 Q500,572 520,578 L540,572 L548,568 Q560,565 570,572 L578,590 Q620,595 665,575 L665,460 Z"/>
<ellipse class="o" cx="580" cy="460" rx="85" ry="24"/>
<path class="n" d="M495,482 Q580,515 665,482 M495,494 Q580,527 665,494" style="stroke-width:1.6"/>
<ellipse class="o" cx="519" cy="526" rx="14" ry="18" style="stroke-width:1.5"/>
<ellipse class="n" cx="521" cy="526" rx="7" ry="10"/>
<path class="n" d="M548,568 L552,592 L578,590"/>
<ellipse class="o" cx="465" cy="560" rx="14" ry="11" transform="rotate(-20 465 560)" style="stroke-width:2.2"/>
</g>
<g transform="translate(425,645) scale(0.11758)">
<path class="o" d="M526,640 L526,430 C530,400 560,384 590,390 C625,398 642,440 642,500 L640,583 L612,640 Z"/>
<path class="n" d="M545,420 C570,405 600,410 615,440 L620,583 M572,583 L572,676 M612,569 L612,640"/>
<path class="o" d="M626,488 L805,424 Q842,420 845,452 L838,472 L776,506 L634,570 Z"/>
<path d="M772,434 L836,417 L849,459 L784,484 Z" fill="#555" stroke="#000" stroke-width="1"/>
<path class="t" d="M790,436 L802,478 M806,431 L818,473 M822,426 L834,468" style="stroke:#ddd"/>
<path class="n" d="M745,440 L758,498"/>
<path class="o" d="M506,636 L612,642 L726,716 C735,760 715,800 679,810 L612,843 L586,809 L560,780 Z"/>
<path class="n" d="M612,642 L666,756 L726,716 M666,756 L679,810 M612,843 L600,800"/>
<path class="o" d="M410,190 L520,180 L532,480 L470,500 L410,470 Z"/>
<path class="n" d="M440,200 L442,470 M470,198 L472,490 M500,195 L505,480"/>
<path class="o" d="M192,650 L262,622 L305,640 L305,700 L235,762 L195,742 Z"/>
<path class="n" d="M195,660 L262,632 L300,650 M240,665 L290,680"/>
<path class="o" d="M412,756 L472,709 L586,809 C590,850 560,880 526,900 C500,925 460,940 412,938 C350,935 300,905 266,836 L330,780 Z"/>
<path class="n" d="M412,756 L526,843 L586,809 M526,843 C520,880 510,905 499,912"/>
<path class="o" d="M288,560 C288,515 315,490 345,488 L406,449 L492,496 L499,603 L426,650 L420,700 L392,760 L332,702 C300,672 288,612 288,560 Z"/>
<path class="n" d="M326,489 L409,533 L492,496 M409,533 C425,560 430,610 426,650 M466,649 L466,723"/>
<ellipse class="o" cx="362" cy="586" rx="30" ry="37" style="stroke-width:1.5"/>
<path class="o" d="M40,870 L330,690 Q400,670 410,720 L395,760 L70,920 Q40,925 40,870 Z"/>
<path class="n" d="M200,790 L230,840 M330,690 C360,700 380,730 385,770"/>
<path d="M55,860 L140,820 L160,870 L75,912 Z" fill="#555" stroke="#000" stroke-width="1"/>
<path class="t" d="M80,850 L95,900 M100,842 L115,892 M120,833 L135,882" style="stroke:#ddd"/>
<ellipse class="o" cx="55" cy="892" rx="18" ry="30" transform="rotate(-30 55 892)"/>
<path class="o" d="M102,745 C110,720 140,712 168,720 C170,745 140,765 102,745 Z" style="stroke-width:1.6"/>
<path class="o" d="M398,100 L430,60 L480,48 L525,62 L542,105 L535,150 L500,180 L450,182 L405,150 Z" style="stroke-width:1.6"/>
<path class="n" d="M445,90 L480,165 M465,85 L500,160"/>
<path d="M282,175 C280,150 310,128 350,118 C385,110 410,130 412,160 C415,195 390,225 350,240 C310,250 285,215 282,175 Z" fill="#222" stroke="#000" stroke-width="1"/>
<path d="M300,170 C320,150 345,140 380,135 M300,190 C330,170 360,160 395,155 M305,210 C335,190 365,180 400,175 M315,228 C345,210 370,200 400,195" stroke="#ccc" stroke-width="1.2" fill="none"/>
</g>
<g transform="translate(350,880) scale(0.15676)">
<path class="o" d="M65,115 L120,85 L215,95 L262,135 L300,140 L450,60 L472,66 L480,180 L520,238 L600,270 L690,385 L790,390 L830,420 L840,510 L845,600 L782,640 L760,680 L700,722 L640,762 L620,800 L590,830 L540,845 L480,815 L470,790 L380,770 L330,742 L275,722 L220,705 L185,680 L190,650 L240,602 L200,552 L100,548 L30,540 L15,510 L40,470 L140,420 L180,390 L110,300 L95,260 L115,225 L90,200 L65,160 Z" style="stroke-width:1.5"/>
<path class="n" d="M160,230 C150,330 170,450 230,560 C290,660 380,740 480,780 C560,810 640,790 690,720 L705,640"/>
<path class="n" d="M215,225 C205,330 225,440 280,540 C340,640 420,700 520,740 C590,760 650,740 690,690"/>
<path class="n" d="M310,240 C300,330 320,420 380,500 C440,580 520,620 600,615 C650,610 670,560 660,500 C650,430 610,370 560,320 C500,260 420,220 360,225 C330,228 315,235 310,240 Z" style="stroke-width:1.4"/>
<path class="n" d="M330,300 C340,360 360,410 380,450 M345,330 L380,340 L370,420 M380,470 L440,450 M560,440 L620,500 M570,520 L650,560"/>
<ellipse class="o" cx="472" cy="418" rx="78" ry="95" transform="rotate(-15 472 418)" style="stroke-width:1.5"/>
<ellipse class="n" cx="476" cy="418" rx="55" ry="72" transform="rotate(-15 476 418)" style="stroke-width:1.3"/>
<ellipse class="n" cx="480" cy="418" rx="42" ry="58" transform="rotate(-15 480 418)"/>
<path class="o" d="M262,136 L695,383 L690,408 L258,158 Z" style="stroke-width:1.3"/>
<path class="n" d="M65,115 L86,137 L171,183 L262,136 M86,137 L88,200 L115,225 M171,183 L172,229 M252,189 L240,210 M110,155 L130,210"/>
<path class="n" d="M300,140 L320,175 M450,60 L455,170 L480,180"/>
<path class="n" d="M520,238 L560,320 M600,270 L700,240"/>
<path class="n" d="M720,560 L760,540 L845,600 M760,540 L760,680"/>
<path class="n" d="M690,385 L700,440 L740,640"/>
<ellipse class="n" cx="125" cy="282" rx="14" ry="20"/><ellipse class="n" cx="122" cy="462" rx="14" ry="20"/>
<ellipse class="n" cx="48" cy="520" rx="14" ry="20"/><ellipse class="n" cx="205" cy="690" rx="14" ry="20"/>
<ellipse class="n" cx="500" cy="808" rx="14" ry="20"/><ellipse class="n" cx="562" cy="815" rx="14" ry="20"/>
<ellipse class="n" cx="718" cy="455" rx="14" ry="20"/><ellipse class="n" cx="728" cy="520" rx="14" ry="20"/>
<ellipse class="n" cx="560" cy="268" rx="18" ry="12"/><ellipse class="n" cx="362" cy="140" rx="18" ry="12"/>
<ellipse class="n" cx="150" cy="105" rx="18" ry="10"/><ellipse class="n" cx="640" cy="640" rx="10" ry="16"/>
<path class="n" d="M600,300 L700,270 M610,330 L705,300"/>
<ellipse class="o" cx="820" cy="226" rx="80" ry="108" transform="rotate(-18 820 226)" style="stroke-width:1.7"/>
<ellipse class="o" cx="775" cy="246" rx="73" ry="99" transform="rotate(-18 775 246)" style="stroke-width:1.4"/>
<ellipse class="n" cx="772" cy="249" rx="56" ry="78" transform="rotate(-18 772 249)" style="stroke-width:1.5"/>
<ellipse cx="772" cy="249" rx="47" ry="67" transform="rotate(-18 772 249)" fill="none" stroke="#000" stroke-width="0.9" stroke-dasharray="2,1.5"/>
<ellipse class="n" cx="770" cy="251" rx="38" ry="55" transform="rotate(-18 770 251)" style="stroke-width:1.4"/>
<ellipse class="n" cx="769" cy="252" rx="28" ry="37" transform="rotate(-18 769 252)" style="stroke-width:1.5"/>
<path d="M820,120 C860,140 880,200 870,260" fill="none" stroke="#444" stroke-width="0.6"/>
</g>
<g transform="translate(0,0) scale(1.00000)">
<ellipse class="o" cx="335.3" cy="985.9" rx="12.9" ry="11.4" transform="rotate(48 335.3 985.9)" style="stroke-width:1.7"/>
<path d="M332.5,975.5 C338,976 343,981 344,988 C344.5,992 343,995 341,997" fill="none" stroke="#333" stroke-width="0.9" stroke-dasharray="1.2,0.8"/>
<path d="M325,978 C323.8,982 324,987 326,991" fill="none" stroke="#666" stroke-width="0.7"/>
<ellipse cx="333.6" cy="986.8" rx="2.8" ry="4.8" transform="rotate(-25 333.6 986.8)" fill="#fff" stroke="#000" stroke-width="1.4"/>
<ellipse cx="334.5" cy="986.5" rx="1.6" ry="3.6" transform="rotate(-25 334.5 986.5)" fill="#000"/>
</g>
<g transform="translate(535,790) scale(0.14558)">
<path class="o" d="M140,200 L300,120 L300,75 L400,25 L450,50 L735,222 L728,250 L690,270 L690,330 L745,330 L755,440 L760,620 L800,760 L810,800 L730,830 L650,790 L620,770 L600,700 L430,760 L370,770 L340,740 L345,700 L300,700 L200,640 L120,600 L90,520 L100,420 L130,370 L110,330 L130,290 L140,250 Z" style="stroke-width:1.5"/>
<path class="n" d="M300,75 L320,100 L580,250 L600,290 L730,252 M320,100 L440,50 M580,250 L700,215"/>
<path class="n" d="M300,120 L300,180 M140,200 L170,230 L320,200 L380,190 L450,230 L470,300 L430,380 L420,400"/>
<path class="n" d="M170,230 L180,300 M430,380 L640,320 M440,450 L640,380 M440,545 L640,462 M640,320 L640,620 M430,380 L440,760"/>
<path class="n" d="M660,340 L700,330 L720,640 L760,770 M700,330 L745,330 M720,640 L660,700 L650,790"/>
<path class="n" d="M590,540 L660,525 M590,555 L660,540 M595,570 L660,556 M600,585 L660,572"/>
<path class="n" d="M250,330 C200,360 180,420 190,500 C200,580 240,650 300,690"/>
<path class="g" d="M200,330 C260,300 330,310 380,350 M210,480 C260,450 330,450 380,470 M220,560 C270,530 330,530 380,550" style="stroke-width:0.6"/>
<ellipse class="n" cx="145" cy="320" rx="22" ry="26" style="stroke-width:1.3"/>
<ellipse class="n" cx="385" cy="735" rx="20" ry="24" style="stroke-width:1.3"/>
<ellipse class="n" cx="420" cy="440" rx="16" ry="22"/><ellipse class="n" cx="430" cy="512" rx="16" ry="22"/>
<ellipse class="n" cx="330" cy="490" rx="16" ry="22"/><ellipse class="n" cx="345" cy="555" rx="16" ry="22"/>
<ellipse class="n" cx="100" cy="560" rx="18" ry="24"/><ellipse class="n" cx="140" cy="640" rx="18" ry="24"/>
<ellipse class="n" cx="325" cy="135" rx="22" ry="12"/><ellipse class="n" cx="540" cy="270" rx="22" ry="12"/>
<path class="n" d="M60,250 L70,300 L100,310 M60,250 L55,280"/>
<path class="o" d="M15,365 L55,345 L75,360 L70,400 L35,410 L15,395 Z" style="stroke-width:1.2"/>
</g>
<g transform="translate(0,0) scale(1.00000)">
<path d="M537.5,845 C533,858 533,880 540,890.5 C548,902.5 565,906.5 578,902.5 C586,899 588.5,890 588.5,878 L587.5,855 L584,857 L584.5,876 C584.5,886 582,893 575,896.5 C565,900 551,897 544.5,887 C539,878 538.5,860 541,846 Z" fill="#fff" stroke="#000" stroke-width="1.3" stroke-linejoin="round"/>
<circle class="o" cx="537.8" cy="876.8" r="2.6" style="stroke-width:1.3"/>
<circle class="o" cx="543.3" cy="888.8" r="2.6" style="stroke-width:1.3"/>
<ellipse class="o" cx="578.6" cy="903.3" rx="2.8" ry="3.2" style="stroke-width:1.5"/>
<ellipse class="o" cx="549.6" cy="871.4" rx="2.6" ry="3.3" style="stroke-width:1.2"/>
<ellipse class="o" cx="555.1" cy="882.3" rx="2.6" ry="3.3" style="stroke-width:1.2"/>
<ellipse class="o" cx="657" cy="816" rx="8.5" ry="12" transform="rotate(-10 657 816)" style="stroke-width:1.4"/>
<path class="o" d="M650,806 L656,803.5 L664,827 L657,830 Z" style="stroke:none"/>
<path class="n" d="M649,806.5 L656.5,803.8 M657,830 L663.5,827.5"/>
<ellipse class="o" cx="650.5" cy="818.5" rx="8.3" ry="12" transform="rotate(-10 650.5 818.5)" style="stroke-width:1.5"/>
<ellipse class="n" cx="651" cy="818.5" rx="5.2" ry="8" transform="rotate(-10 651 818.5)" style="stroke-width:1.2"/>
<ellipse class="n" cx="651.3" cy="818.5" rx="3.6" ry="6" transform="rotate(-10 651.3 818.5)" style="stroke-width:0.8"/>
<ellipse class="o" cx="531" cy="893.3" rx="12" ry="16.5" transform="rotate(-18 531 893.3)" style="stroke-width:1.7"/>
<ellipse class="o" cx="523.8" cy="895.8" rx="11.2" ry="15.8" transform="rotate(-18 523.8 895.8)" style="stroke-width:1.4"/>
<ellipse class="n" cx="525" cy="896.3" rx="8.6" ry="12.3" transform="rotate(-18 525 896.3)" style="stroke-width:1.5"/>
<ellipse cx="525" cy="896.3" rx="7.3" ry="10.6" transform="rotate(-18 525 896.3)" fill="none" stroke="#000" stroke-width="0.9" stroke-dasharray="2,1.5"/>
<ellipse class="n" cx="524.6" cy="896.3" rx="6" ry="8.6" transform="rotate(-18 524.6 896.3)" style="stroke-width:1.4"/>
<ellipse class="n" cx="524.3" cy="896.2" rx="4.3" ry="5.6" transform="rotate(-18 524.3 896.2)" style="stroke-width:1.5"/>
<path class="o" d="M554.5,913.5 L562.5,910.8 Q565.8,913 564.4,917.5 L556.8,920.4 Z"/>
<ellipse class="o" cx="555.5" cy="917" rx="2.4" ry="3.3" transform="rotate(-20 555.5 917)"/>
</g>
<g transform="translate(170,1030) scale(0.10079)">
<path class="o" d="M238,288 L470,142 Q500,140 502,180 L500,210 L265,352 Z" style="stroke-width:1.6"/>
<path class="t" d="M355,228 L375,262 M375,216 L395,250 M395,204 L415,238 M415,192 L435,226 M435,180 L455,214 M455,168 L475,202" style="stroke-width:1"/>
<ellipse class="o" cx="188" cy="338" rx="60" ry="68" transform="rotate(-20 188 338)" style="stroke-width:1.8"/>
<path class="n" d="M150,305 C190,290 235,300 250,330" style="stroke-width:1"/>
<ellipse class="n" cx="175" cy="350" rx="30" ry="34" transform="rotate(-20 175 350)" style="stroke-width:1"/>
<path class="n" d="M160,335 L190,345 L185,370 L160,362 Z" style="stroke-width:0.8"/>
<ellipse class="o" cx="565" cy="122" rx="52" ry="60" transform="rotate(-15 565 122)" style="stroke-width:1.8"/>
<ellipse class="n" cx="558" cy="128" rx="32" ry="40" transform="rotate(-15 558 128)" style="stroke-width:1.3"/>
</g>
</svg>
</body></html>
